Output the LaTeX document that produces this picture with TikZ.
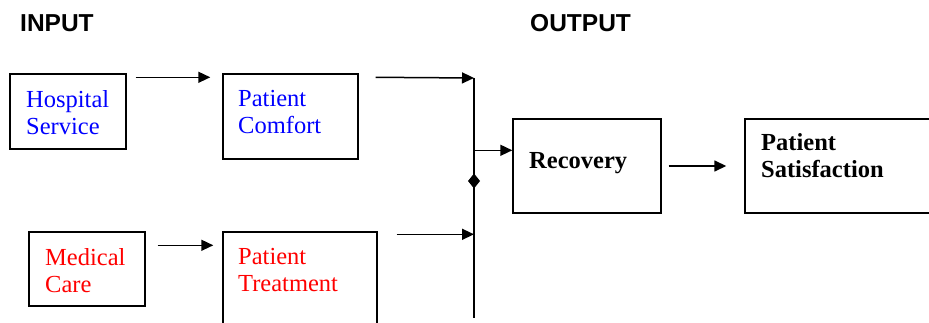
\documentclass[tikz,border=0pt]{standalone}
\usepackage{fontspec}
\setmainfont{Liberation Serif}
\newfontfamily\headfont{Liberation Sans}
\usetikzlibrary{arrows.meta,calc}

\begin{document}
\begin{tikzpicture}[
        x=1pt, y=-1pt,
        box/.style={rectangle, draw, line width=1.4pt, inner sep=0pt},
        boxtext/.style={anchor=north west, inner sep=0pt, align=left,
            font=\fontsize{24.5}{27.5}\selectfont},
        heading/.style={anchor=north west, inner sep=0pt,
            font=\headfont\bfseries\fontsize{24.5}{27.5}\selectfont},
        flow/.style={line width=1.5pt, -{Triangle[length=12pt,width=11pt]}}
    ]
        \useasboundingbox (0,0) rectangle (929,323);

        % headings
        \node[heading] (input) at (20,14.5) {INPUT};
        \node[heading] (output) at (530,14.5) {OUTPUT};

        % boxes
        \node[box, minimum width=116pt, minimum height=75pt] (hospital) at (68,111.5) {};
        \node[box, minimum width=135pt, minimum height=85pt] (comfort) at (290.5,116.5) {};
        \node[box, minimum width=116pt, minimum height=74pt] (medical) at (87,269) {};
        \node[box, minimum width=154pt, minimum height=110pt] (treatment) at (300,287) {};
        \node[box, minimum width=148pt, minimum height=94pt] (recovery) at (587,166) {};
        \node[box, minimum width=195pt, minimum height=94pt] (satisfaction) at (842.5,166) {};

        % texts
        \node[boxtext, text=blue] (hospitaltext) at (26,90) {Hospital\\Service};
        \node[boxtext, text=blue] (comforttext) at (238,90) {Patient\\Comfort};
        \node[boxtext, text=red] (medicaltext) at (45,248) {Medical\\Care};
        \node[boxtext, text=red] (treatmenttext) at (238,248) {Patient\\Treatment};
        \node[boxtext, font=\bfseries\fontsize{24.5}{27.5}\selectfont] (recoverytext) at (529,152) {Recovery};
        \node[boxtext, font=\bfseries\fontsize{24.5}{27.5}\selectfont] (satisfactiontext) at (761,133) {Patient\\Satisfaction};

        % bus
        \coordinate (bustop) at (474,78);
        \coordinate (busbottom) at (474,318);
        \coordinate (joint) at (474,181);
        \draw[line width=1.5pt] (bustop) -- (busbottom);
        \fill (joint) +(0,-7.5) -- +(6,0) -- +(0,7.5) -- +(-6,0) -- cycle;

        % arrows
        \draw[flow] ($(hospital.north east)+(9,4)$) -- ($(comfort.north west)+(-12,4)$);
        \draw[flow] ($(comfort.north east)+(17,4)$) -- (bustop);
        \draw[flow] ($(medical.north east)+(12,14)$) -- ($(treatment.north west)+(-9,14)$);
        \coordinate (treatmentout) at ($(treatment.north east)+(19,3)$);
        \draw[flow] (treatmentout) -- (bustop |- treatmentout);
        \coordinate (recoveryin) at ($(recovery.north west)+(0,32)$);
        \draw[flow] (bustop |- recoveryin) -- (recoveryin);
        \draw[flow] ([xshift=7pt]recovery.east) -- ([xshift=-18pt]satisfaction.west);
\end{tikzpicture}
\end{document}
